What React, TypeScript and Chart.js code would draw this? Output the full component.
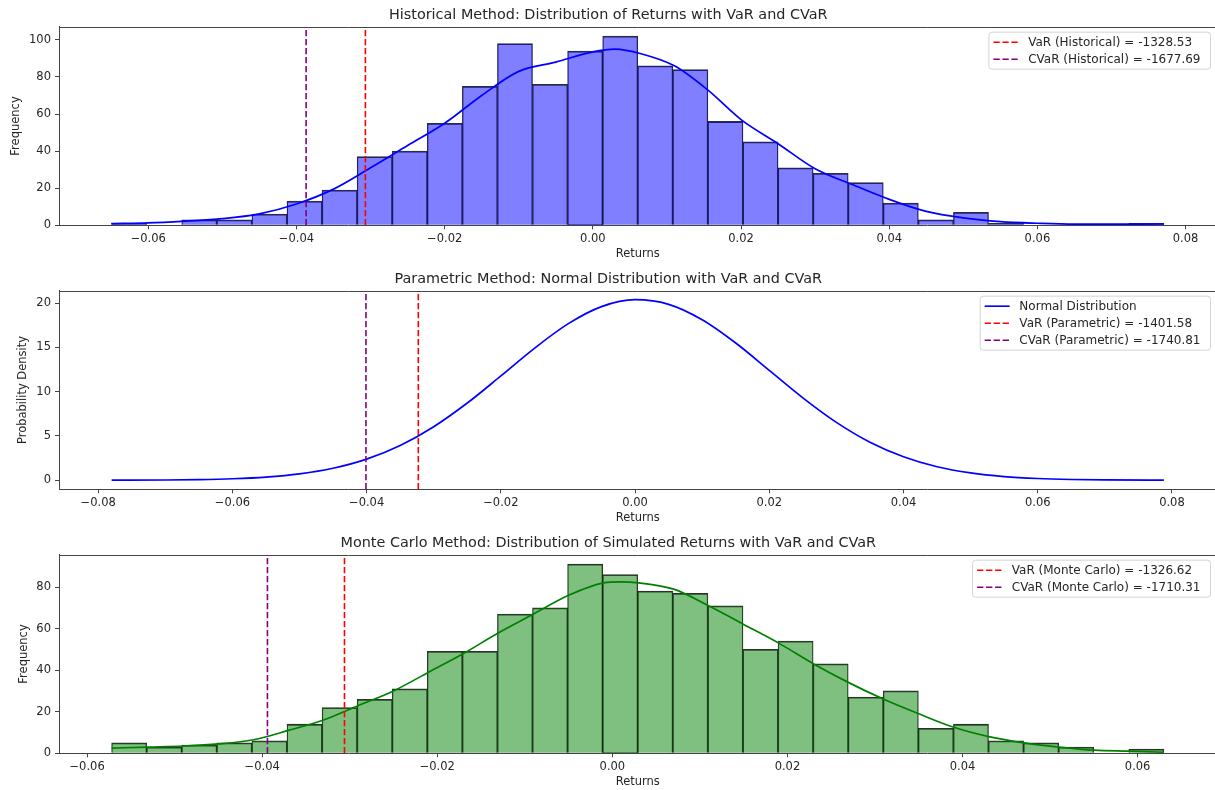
import React, { useEffect, useRef } from "react";
import { Chart, registerables } from "chart.js";

Chart.register(...registerables);

const FONT_FAMILY = "'DejaVu Sans', 'Liberation Sans', sans-serif";

// ---------------- Data ----------------
const histTitle = "Historical Method: Distribution of Returns with VaR and CVaR";
const histBinMin = -0.06495;
const histBinMax = 0.07707;
const histCounts = [1, 0, 3, 3, 6, 13, 19, 37, 40, 55, 75, 98, 76, 94, 102, 86, 84, 56, 45, 31, 28, 23, 12, 3, 7, 1, 0, 0, 0, 1];
const histKdeX = [-0.065, -0.06, -0.055, -0.05, -0.045, -0.04, -0.035, -0.03, -0.025, -0.02, -0.015, -0.01, -0.005, 0.0, 0.003, 0.0065, 0.011, 0.0155, 0.02, 0.025, 0.03, 0.035, 0.04, 0.045, 0.05, 0.055, 0.06, 0.065, 0.07, 0.0771];
const histKdeY = [0.9, 1.3, 2.3, 3.6, 6.2, 11.5, 19.5, 31, 43, 55, 70, 83, 88, 93.5, 95, 92.5, 86, 73, 57, 44, 30.5, 22, 14, 7.5, 4, 2, 1.1, 0.6, 0.6, 0.7];
const histVaR = -0.0307;
const histCVaR = -0.0387;
const histLegendLabels = ["VaR (Historical) = -1328.53", "CVaR (Historical) = -1677.69"];

const paramTitle = "Parametric Method: Normal Distribution with VaR and CVaR";
const paramX = [-0.078, -0.07, -0.065, -0.06, -0.055, -0.05, -0.045, -0.04, -0.035, -0.03, -0.025, -0.02, -0.015, -0.01, -0.005, 0.0, 0.005, 0.01, 0.015, 0.02, 0.025, 0.03, 0.035, 0.04, 0.045, 0.05, 0.055, 0.06, 0.065, 0.07, 0.0788];
const paramY = [0.007, 0.031, 0.075, 0.171, 0.364, 0.728, 1.36, 2.39, 3.93, 6.05, 8.72, 11.78, 14.9, 17.66, 19.61, 20.39, 19.87, 18.13, 15.5, 12.41, 9.31, 6.54, 4.3, 2.66, 1.53, 0.83, 0.42, 0.2, 0.089, 0.037, 0.007];
const paramVaR = -0.0323;
const paramCVaR = -0.0401;
const paramLegendLabels = ["Normal Distribution", "VaR (Parametric) = -1401.58", "CVaR (Parametric) = -1740.81"];

const mcTitle = "Monte Carlo Method: Distribution of Simulated Returns with VaR and CVaR";
const mcBinMin = -0.0572;
const mcBinMax = 0.063;
const mcCounts = [5, 3, 4, 5, 6, 14, 22, 26, 31, 49, 49, 67, 70, 91, 86, 78, 77, 71, 50, 54, 43, 27, 30, 12, 14, 6, 5, 3, 0, 2];
const mcKdeX = [-0.0572, -0.053, -0.049, -0.045, -0.041, -0.037, -0.033, -0.029, -0.025, -0.021, -0.017, -0.013, -0.009, -0.005, -0.001, 0.001, 0.003, 0.007, 0.011, 0.015, 0.019, 0.023, 0.027, 0.031, 0.035, 0.039, 0.043, 0.047, 0.051, 0.055, 0.059, 0.063];
const mcKdeY = [2.5, 3, 3.5, 4.5, 6.5, 11, 16, 23, 30, 39, 48, 58, 67, 76, 82, 82.5, 82, 79, 71, 62, 53, 43, 34, 26, 19, 12.5, 8, 5, 3, 1.5, 1, 0.5];
const mcVaR = -0.0306;
const mcCVaR = -0.0394;
const mcLegendLabels = ["VaR (Monte Carlo) = -1326.62", "CVaR (Monte Carlo) = -1710.31"];

const xLabel = "Returns";
const freqLabel = "Frequency";
const densityLabel = "Probability Density";

// ---------------- Styles ----------------
const CANVAS_W = 1230;
const CANVAS_H = 264;
const AREA_LEFT = 59;
const AREA_RIGHT = 1216.5;
const AREA_BOTTOM = 225.3;
const TEXT = "#262626";
const SPINE = "#444444";
const RED = "#ff0000";
const PURPLE = "#800080";
const BLUE = "#0000ff";
const GREEN = "#008000";
const TICK_FONT = 11.5;
const TITLE_FONT = 14.4;
const LEGEND_FONT = 12;
const DASH = [6.3, 2.7];

Chart.defaults.font.family = FONT_FAMILY;
Chart.defaults.color = TEXT;

// ---------------- Helpers ----------------
function binData(min: number, max: number, counts: number[]) {
  const w = (max - min) / counts.length;
  return counts.map((c, i) => ({ x: min + (i + 0.5) * w, y: c }));
}
function pts(xs: number[], ys: number[]) {
  return xs.map((x, i) => ({ x, y: ys[i] }));
}
function padRange(lo: number, hi: number): [number, number] {
  const m = (hi - lo) * 0.05;
  return [lo - m, hi + m];
}
function fmtX(v: any) {
  const n = Number(v);
  const s = Math.abs(n) < 1e-9 ? "0.00" : n.toFixed(2);
  return s.replace("-", "\u2212");
}
function fmtY(v: any) {
  return String(Math.round(Number(v)));
}

function vline(x: number, color: string, yr: [number, number], label: string) {
  return {
    type: "line" as const,
    label,
    data: [{ x, y: yr[0] }, { x, y: yr[1] }],
    borderColor: color,
    borderWidth: 1.6,
    borderDash: DASH,
    pointRadius: 0,
    fill: false,
    order: 0,
  };
}

const framePlugin = {
  id: "frame",
  afterDatasetsDraw(chart: any) {
    const { ctx, chartArea: a, width } = chart;
    ctx.save();
    ctx.strokeStyle = SPINE;
    ctx.lineWidth = 1;
    ctx.beginPath();
    const t = Math.round(a.top) + 0.5;
    ctx.moveTo(a.left, t);
    ctx.lineTo(Math.min(a.right, width), t);
    ctx.stroke();
    ctx.restore();
  },
};

const boxLegendPlugin = {
  id: "boxLegend",
  afterDraw(chart: any, _args: any, opts: any) {
    const items = opts && opts.items;
    if (!items || !items.length) return;
    const { ctx, chartArea: a } = chart;
    ctx.save();
    ctx.font = `${LEGEND_FONT}px ${FONT_FAMILY}`;
    const tw = Math.max(...items.map((it: any) => ctx.measureText(it.label).width));
    const padL = 4.5, handle = 25, gap = 9.7, padR = 10;
    const w = padL + handle + gap + tw + padR;
    const rowH = 17;
    const h = 20 + (items.length - 1) * rowH;
    const right = 1210.5;
    const left = right - w;
    const top = a.top + 5.5;
    const rad = 3;
    ctx.beginPath();
    ctx.moveTo(left + rad, top);
    ctx.lineTo(right - rad, top);
    ctx.quadraticCurveTo(right, top, right, top + rad);
    ctx.lineTo(right, top + h - rad);
    ctx.quadraticCurveTo(right, top + h, right - rad, top + h);
    ctx.lineTo(left + rad, top + h);
    ctx.quadraticCurveTo(left, top + h, left, top + h - rad);
    ctx.lineTo(left, top + rad);
    ctx.quadraticCurveTo(left, top, left + rad, top);
    ctx.closePath();
    ctx.fillStyle = "rgba(255,255,255,0.8)";
    ctx.fill();
    ctx.strokeStyle = "#d4d4d4";
    ctx.lineWidth = 1;
    ctx.stroke();
    items.forEach((it: any, i: number) => {
      const y = top + 10 + i * rowH;
      const x0 = left + padL;
      ctx.beginPath();
      ctx.setLineDash(it.dash ? DASH : []);
      ctx.strokeStyle = it.color;
      ctx.lineWidth = 1.6;
      ctx.moveTo(x0, y);
      ctx.lineTo(x0 + handle, y);
      ctx.stroke();
      ctx.setLineDash([]);
      ctx.fillStyle = TEXT;
      ctx.textBaseline = "middle";
      ctx.textAlign = "left";
      ctx.fillText(it.label, x0 + handle + gap, y + 0.5);
    });
    ctx.restore();
  },
};

function buildScales(xr: [number, number], yr: [number, number], yTitle: string, yStep: number, yTitlePad: number) {
  return {
    x: {
      type: "linear",
      min: xr[0],
      max: xr[1],
      offset: false,
      afterFit: (s: any) => {
        s.height = CANVAS_H - AREA_BOTTOM;
      },
      grid: { display: true, offset: false, drawOnChartArea: false, drawTicks: true, tickLength: 4, tickColor: SPINE, tickWidth: 1 },
      border: { display: true, color: SPINE, width: 1 },
      ticks: { stepSize: 0.02, includeBounds: false, autoSkip: false, maxRotation: 0, padding: 3, color: TEXT, font: { size: TICK_FONT }, callback: fmtX },
      title: { display: true, text: xLabel, color: TEXT, font: { size: TICK_FONT }, padding: { top: 0, bottom: 3.2 } },
    },
    y: {
      type: "linear",
      min: yr[0],
      max: yr[1],
      afterFit: (s: any) => {
        s.width = AREA_LEFT;
      },
      grid: { display: true, drawOnChartArea: false, drawTicks: true, tickLength: 4, tickColor: SPINE, tickWidth: 1 },
      border: { display: true, color: SPINE, width: 1 },
      ticks: { stepSize: yStep, includeBounds: false, autoSkip: false, padding: 4, color: TEXT, font: { size: TICK_FONT }, callback: fmtY },
      title: { display: true, text: yTitle, color: TEXT, font: { size: TICK_FONT }, padding: { top: yTitlePad, bottom: 0 } },
    },
  };
}

function basePlugins(title: string, items: any[]) {
  return {
    legend: { display: false },
    tooltip: { enabled: false },
    title: {
      display: true,
      text: title,
      color: TEXT,
      font: { size: TITLE_FONT, weight: "normal" },
      padding: { top: 6.4, bottom: 3.0 },
    },
    boxLegend: { items },
  };
}

function histConfig(
  title: string, binMin: number, binMax: number, counts: number[], kx: number[], ky: number[],
  varV: number, cvarV: number, labels: string[], color: string, fill: string, yStep: number, yPad: number
) {
  const xr = padRange(binMin, binMax);
  const yr: [number, number] = [0, Math.max(...counts) * 1.05];
  return {
    type: "bar",
    data: {
      datasets: [
        vline(cvarV, PURPLE, yr, labels[1]),
        vline(varV, RED, yr, labels[0]),
        {
          type: "line",
          label: "kde",
          data: pts(kx, ky),
          borderColor: color,
          borderWidth: 1.7,
          pointRadius: 0,
          fill: false,
          cubicInterpolationMode: "monotone",
          order: 1,
        },
        {
          type: "bar",
          label: "hist",
          data: binData(binMin, binMax, counts),
          backgroundColor: fill,
          borderColor: "rgba(0,0,0,0.82)",
          borderWidth: { top: 1.1, left: 0.7, right: 0.7, bottom: 0 },
          borderSkipped: "start",
          barPercentage: 1,
          categoryPercentage: 1,
          grouped: false,
          order: 2,
        },
      ],
    },
    options: {
      responsive: false,
      animation: false,
      devicePixelRatio: 1,
      layout: { padding: { left: 0, right: CANVAS_W - AREA_RIGHT, top: 0, bottom: 0 } },
      scales: buildScales(xr, yr, freqLabel, yStep, yPad),
      plugins: basePlugins(title, [
        { label: labels[0], color: RED, dash: true },
        { label: labels[1], color: PURPLE, dash: true },
      ]),
    },
    plugins: [framePlugin, boxLegendPlugin],
  };
}

function paramConfig() {
  const xr = padRange(paramX[0], paramX[paramX.length - 1]);
  const yr = padRange(0, Math.max(...paramY));
  return {
    type: "line",
    data: {
      datasets: [
        vline(paramCVaR, PURPLE, yr, paramLegendLabels[2]),
        vline(paramVaR, RED, yr, paramLegendLabels[1]),
        {
          label: paramLegendLabels[0],
          data: pts(paramX, paramY),
          borderColor: BLUE,
          borderWidth: 1.7,
          pointRadius: 0,
          fill: false,
          cubicInterpolationMode: "monotone",
          order: 1,
        },
      ],
    },
    options: {
      responsive: false,
      animation: false,
      devicePixelRatio: 1,
      layout: { padding: { left: 0, right: CANVAS_W - AREA_RIGHT, top: 0, bottom: 0 } },
      scales: buildScales(xr, yr, densityLabel, 5, 16),
      plugins: basePlugins(paramTitle, [
        { label: paramLegendLabels[0], color: BLUE, dash: false },
        { label: paramLegendLabels[1], color: RED, dash: true },
        { label: paramLegendLabels[2], color: PURPLE, dash: true },
      ]),
    },
    plugins: [framePlugin, boxLegendPlugin],
  };
}

function ChartCanvas({ makeConfig, top }: { makeConfig: () => any; top: number }) {
  const ref = useRef<HTMLCanvasElement>(null);
  useEffect(() => {
    const chart = new Chart(ref.current as HTMLCanvasElement, makeConfig());
    return () => chart.destroy();
  }, []);
  return (
    <canvas
      ref={ref}
      width={CANVAS_W}
      height={CANVAS_H}
      style={{ position: "absolute", left: 0, top, width: CANVAS_W, height: CANVAS_H, display: "block" }}
    />
  );
}

export default function App() {
  return (
    <div style={{ position: "fixed", left: 0, top: 0, width: 1215, height: 790, overflow: "hidden", background: "#fff" }}>
      <ChartCanvas
        top={0}
        makeConfig={() =>
          histConfig(histTitle, histBinMin, histBinMax, histCounts, histKdeX, histKdeY, histVaR, histCVaR, histLegendLabels, BLUE, "rgba(0,0,255,0.5)", 20, 9)
        }
      />
      <ChartCanvas top={264} makeConfig={paramConfig} />
      <ChartCanvas
        top={528}
        makeConfig={() =>
          histConfig(mcTitle, mcBinMin, mcBinMax, mcCounts, mcKdeX, mcKdeY, mcVaR, mcCVaR, mcLegendLabels, GREEN, "rgba(0,128,0,0.5)", 20, 17)
        }
      />
    </div>
  );
}
